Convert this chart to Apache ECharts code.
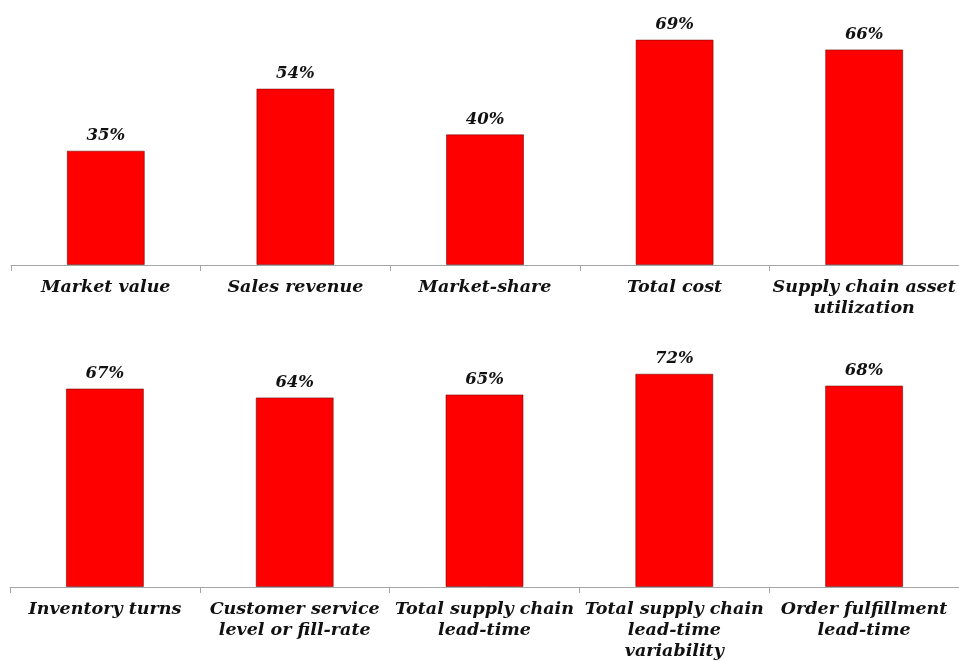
<!DOCTYPE html>
<html>
<head>
<meta charset="utf-8">
<script src="https://cdn.jsdelivr.net/npm/echarts@6/dist/echarts.min.js"></script>
<style>
  html, body { margin: 0; padding: 0; background: #fff; }
  #chart { width: 959px; height: 662px; }
</style>
</head>
<body>
<div id="chart"></div>
<script>
// Share of respondents per performance measure (%)
const topCategories = ['Market value', 'Sales revenue', 'Market-share', 'Total cost', 'Supply chain asset\nutilization'];
const topValues = [35, 54, 40, 69, 66];
const bottomCategories = ['Inventory turns', 'Customer service\nlevel or fill-rate', 'Total supply chain\nlead-time', 'Total supply chain\nlead-time\nvariability', 'Order fulfillment\nlead-time'];
const bottomValues = [67, 64, 65, 72, 68];

const FONT = '"DejaVu Serif", Georgia, serif';
const RED = '#ff0000';

function xAxisFor(gridIndex, data) {
  return {
    type: 'category',
    gridIndex: gridIndex,
    data: data,
    boundaryGap: true,
    axisLine: { lineStyle: { color: '#a6a6a6', width: 1 } },
    axisTick: { show: true, length: 6, alignWithLabel: false, lineStyle: { color: '#a6a6a6' } },
    axisLabel: {
      interval: 0,
      margin: 12,
      color: '#111111',
      fontFamily: FONT,
      fontStyle: 'italic',
      fontWeight: 'bold',
      fontSize: 17.5,
      lineHeight: 21
    }
  };
}

function yAxisFor(gridIndex, max) {
  return {
    type: 'value',
    gridIndex: gridIndex,
    min: 0,
    max: max,
    show: false,
    splitLine: { show: false }
  };
}

function barSeries(index, values) {
  return {
    type: 'bar',
    xAxisIndex: index,
    yAxisIndex: index,
    data: values,
    barWidth: 78,
    itemStyle: { color: RED, borderColor: 'rgba(110,0,0,0.55)', borderWidth: 1 },
    label: {
      show: true,
      position: 'top',
      distance: 6,
      formatter: '{c}%',
      color: '#111111',
      fontFamily: FONT,
      fontStyle: 'italic',
      fontWeight: 'bold',
      fontSize: 16.5
    },
    silent: true
  };
}

const chart = echarts.init(document.getElementById('chart'), null, { renderer: 'canvas' });
chart.setOption({
  backgroundColor: '#ffffff',
  animation: false,
  grid: [
    { left: 11, right: 0, top: 20, height: 245 },
    { left: 10, right: 0, top: 350, height: 237 }
  ],
  xAxis: [xAxisFor(0, topCategories), xAxisFor(1, bottomCategories)],
  yAxis: [yAxisFor(0, 75), yAxisFor(1, 80)],
  series: [barSeries(0, topValues), barSeries(1, bottomValues)]
});
</script>
</body>
</html>
